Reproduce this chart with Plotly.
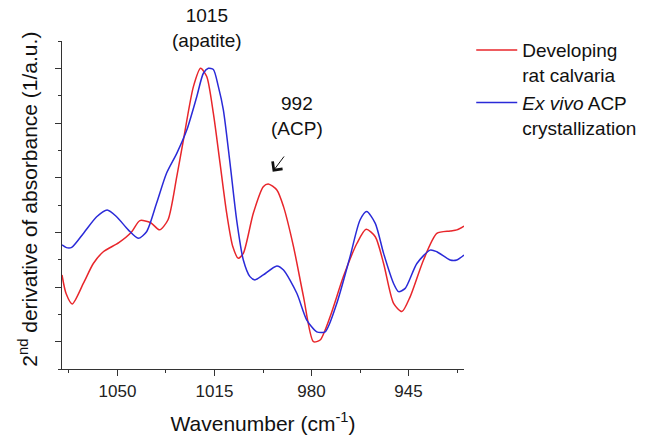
import plotly.graph_objects as go

# Second-derivative FTIR spectra, phosphate v1/v3 region
wn_calvaria = [1070, 1068.5, 1066.3, 1062.3, 1058.7, 1055.1, 1049.5, 1045.0, 1041.9, 1038.0,
               1034.8, 1031.8, 1028.6, 1026.2, 1022.6, 1020.0, 1017.8, 1015.4, 1013.0,
               1010.6, 1008.4, 1006.4, 1004.6, 1001.0, 997.4, 995.6, 992.5, 990.1,
               986.5, 982.9, 979.3, 976.9, 973.3, 968.5, 963.6, 960.3, 957.0, 954.0,
               950.4, 947.4, 944.4, 939.6, 934.8, 930.0, 927.6, 925.0]
d2_calvaria = [3.44, 2.75, 2.38, 3.13, 3.86, 4.29, 4.62, 5.00, 5.43, 5.35,
               5.09, 5.45, 7.04, 8.38, 10.33, 11.00, 10.70, 9.35, 7.53,
               5.70, 4.48, 4.05, 4.23, 5.70, 6.67, 6.77, 6.55, 5.94,
               4.48, 2.65, 1.00, 1.06, 1.91, 3.38, 4.60, 5.11, 4.84, 3.86,
               2.40, 2.10, 2.65, 3.99, 4.96, 5.05, 5.09, 5.23]

wn_acp = [1070, 1068.4, 1066.5, 1062.3, 1057.5, 1053.7, 1050.3, 1046.1, 1042.5, 1039.5,
          1035.9, 1032.3, 1028.6, 1025.0, 1021.4, 1019.0, 1017.2, 1015.4, 1013.6,
          1011.8, 1009.4, 1007.0, 1004.6, 1002.2, 1000.4, 997.4, 992.5, 990.1,
          985.3, 981.7, 978.1, 975.1, 970.9, 966.1, 962.5, 960.1, 957.0, 954.0,
          950.4, 948.6, 946.2, 942.0, 937.2, 934.8, 930.0, 927.6, 925.0]
d2_acp = [4.54, 4.44, 4.45, 4.96, 5.57, 5.82, 5.57, 5.09, 4.78, 5.02,
          6.06, 7.16, 7.89, 8.74, 9.96, 10.82, 11.00, 10.96, 10.33,
          9.48, 7.53, 5.45, 3.99, 3.38, 3.26, 3.44, 3.77, 3.62,
          2.77, 1.79, 1.36, 1.36, 2.40, 4.11, 5.45, 5.76, 5.33, 4.23,
          3.13, 2.83, 2.95, 3.86, 4.35, 4.29, 3.99, 3.99, 4.17]

series_names = ["Developing<br>rat calvaria", "<i>Ex vivo</i> ACP<br>crystallization"]
series_colors = ["#e8262b", "#2a2ad8"]

x_ticks = [1050, 1015, 980, 945]

# band labels
apatite_label = ("1015<br>(apatite)", 1017.7)
acp_label = ("992<br>(ACP)", 985.3, 9.26)
acp_arrow_head = (994.0, 7.22)
acp_arrow_tail = (989.5, 7.83)

FONT = "Liberation Sans, Arial, sans-serif"

fig = go.Figure()
for wn, d2, name, color in zip([wn_calvaria, wn_acp], [d2_calvaria, d2_acp],
                               series_names, series_colors):
    fig.add_trace(go.Scatter(
        x=wn, y=d2, mode="lines", name=name,
        line=dict(color=color, width=1.5, shape="spline", smoothing=0.7),
    ))

fig.add_annotation(text=apatite_label[0], x=apatite_label[1], xref="x",
                   y=1.04, yref="paper", yanchor="middle", showarrow=False,
                   font=dict(family=FONT, size=19, color="#111"))
fig.add_annotation(text=acp_label[0], x=acp_label[1], y=acp_label[2],
                   xref="x", yref="y", yanchor="middle", showarrow=False,
                   font=dict(family=FONT, size=19, color="#111"))
fig.add_annotation(text="", x=acp_arrow_head[0], y=acp_arrow_head[1],
                   ax=acp_arrow_tail[0], ay=acp_arrow_tail[1],
                   xref="x", yref="y", axref="x", ayref="y",
                   showarrow=True, arrowhead=4, arrowsize=2.4, arrowwidth=1,
                   arrowcolor="#111")

# vertical axis title
fig.add_annotation(text="2<sup>nd</sup> derivative of absorbance (1/a.u.)",
                   x=-0.084, y=0.517, xref="paper", yref="paper",
                   xanchor="center", yanchor="middle", textangle=-90,
                   showarrow=False, font=dict(family=FONT, size=21, color="#111"))

axis_common = dict(showline=True, linecolor="#333", linewidth=1.3,
                   showgrid=False, zeroline=False, ticks="outside",
                   tickcolor="#333", tickwidth=1.2)

fig.update_xaxes(
    range=[1070, 925], tickvals=x_ticks, ticklen=6,
    minor=dict(dtick=17.5, tick0=1050, ticklen=3, ticks="outside", tickcolor="#333"),
    tickfont=dict(family=FONT, size=17, color="#222"),
    title=dict(text="Wavenumber (cm<sup>-1</sup>)", standoff=16,
               font=dict(family=FONT, size=21, color="#111")),
    **axis_common,
)
fig.update_yaxes(
    range=[0, 12], tick0=1, dtick=2, ticklen=6, showticklabels=False,
    minor=dict(dtick=1, tick0=0, ticklen=3, ticks="outside", tickcolor="#333"),
    **axis_common,
)

fig.update_layout(
    width=647, height=437,
    margin=dict(l=62, r=183, t=41, b=68, autoexpand=False),
    paper_bgcolor="white", plot_bgcolor="white",
    font=dict(family=FONT, color="#111"),
    legend=dict(x=1.018, y=1.03, xanchor="left", yanchor="top", valign="top",
                itemwidth=41,
                font=dict(family=FONT, size=19, color="#111"),
                bgcolor="rgba(0,0,0,0)", tracegroupgap=0),
    showlegend=True,
)

fig.write_html("out.html")
